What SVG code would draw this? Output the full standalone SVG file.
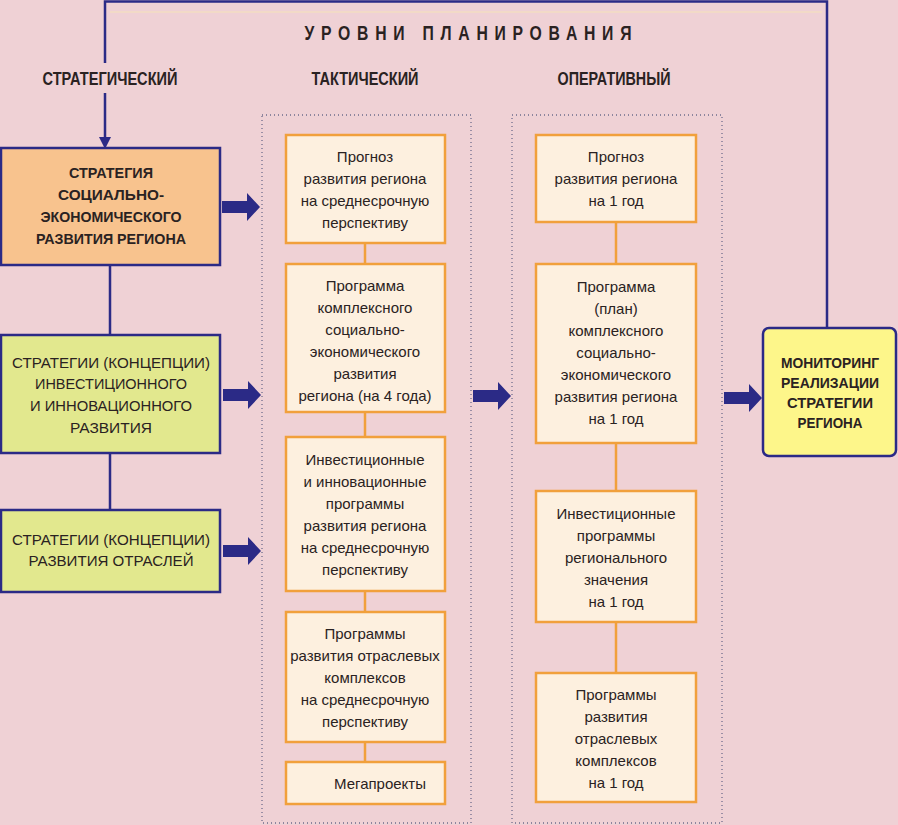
<svg xmlns="http://www.w3.org/2000/svg" width="898" height="825" viewBox="0 0 898 825">
<defs>
<style>
.t{font-family:"Liberation Sans",Arial,sans-serif;font-size:15px;fill:#2a2222;text-anchor:middle}
.b{font-weight:bold}
.h{font-family:"Liberation Sans",Arial,sans-serif;font-weight:bold;fill:#2a2222;text-anchor:middle}
.nav{fill:none;stroke:#2b2a86;stroke-width:2.5}
.org{fill:none;stroke:#f1a03c;stroke-width:2.5}
.tb{fill:#fdf0df;stroke:#f1a03c;stroke-width:2.5}
.sb{stroke:#2b2a86;stroke-width:2.5}
.dot{fill:none;stroke:#6e6c8c;stroke-width:1.3;stroke-dasharray:1 3}
</style>
<polygon id="arr" points="-38,-6 -13,-6 -13,-14 0,0 -13,14 -13,6 -38,6" fill="#2b2a86"/>
</defs>
<rect width="898" height="825" fill="#efd1d5"/>
<line x1="110" y1="12" x2="822" y2="12" stroke="#f3dcc2" stroke-width="1.5"/>

<text class="h" transform="translate(468,40) scale(0.75,1)" x="0" y="0" font-size="21" textLength="436" lengthAdjust="spacing">УРОВНИ ПЛАНИРОВАНИЯ</text>
<text class="h" x="110" y="85" font-size="18" textLength="135" lengthAdjust="spacingAndGlyphs">СТРАТЕГИЧЕСКИЙ</text>
<text class="h" x="365" y="85" font-size="18" textLength="107" lengthAdjust="spacingAndGlyphs">ТАКТИЧЕСКИЙ</text>
<text class="h" x="614" y="85" font-size="18" textLength="113" lengthAdjust="spacingAndGlyphs">ОПЕРАТИВНЫЙ</text>

<rect class="dot" x="262" y="115" width="209" height="708"/>
<rect class="dot" x="512" y="115" width="210" height="708"/>

<g id="connectors">
<path class="nav" d="M827,328 V1.5 H105 V63 M105,93 V139"/>
<polygon points="99,137 111,137 105,149" fill="#2b2a86"/>
<path class="nav" d="M110,265 V335 M110,453 V510"/>
<path class="org" d="M365,243 V264 M365,412 V437 M365,591 V612 M365,742 V762"/>
<path class="org" d="M616,222 V264 M616,443 V491 M616,622 V673"/>
<use href="#arr" x="260" y="207"/>
<use href="#arr" x="261" y="395"/>
<use href="#arr" x="261" y="551"/>
<use href="#arr" x="511" y="396"/>
<use href="#arr" x="762" y="398"/>
</g>

<g id="strategy">
<rect class="sb" x="1" y="148" width="219" height="117" fill="#f8c38e"/>
<text class="t b" x="111" y="178" textLength="84" lengthAdjust="spacingAndGlyphs">СТРАТЕГИЯ</text>
<text class="t b" x="111" y="200" textLength="106" lengthAdjust="spacingAndGlyphs">СОЦИАЛЬНО-</text>
<text class="t b" x="111" y="222" textLength="141" lengthAdjust="spacingAndGlyphs">ЭКОНОМИЧЕСКОГО</text>
<text class="t b" x="111" y="244" textLength="150" lengthAdjust="spacingAndGlyphs">РАЗВИТИЯ РЕГИОНА</text>
</g>
<g id="invest">
<rect class="sb" x="1" y="335" width="219" height="118" fill="#e2e88e"/>
<text class="t" x="111" y="368" textLength="198" lengthAdjust="spacingAndGlyphs">СТРАТЕГИИ (КОНЦЕПЦИИ)</text>
<text class="t" x="111" y="389" textLength="152" lengthAdjust="spacingAndGlyphs">ИНВЕСТИЦИОННОГО</text>
<text class="t" x="111" y="411" textLength="162" lengthAdjust="spacingAndGlyphs">И ИННОВАЦИОННОГО</text>
<text class="t" x="111" y="433" textLength="82" lengthAdjust="spacingAndGlyphs">РАЗВИТИЯ</text>
</g>
<g id="branches">
<rect class="sb" x="1" y="510" width="219" height="82" fill="#e2e88e"/>
<text class="t" x="111" y="545" textLength="198" lengthAdjust="spacingAndGlyphs">СТРАТЕГИИ (КОНЦЕПЦИИ)</text>
<text class="t" x="111" y="566" textLength="165" lengthAdjust="spacingAndGlyphs">РАЗВИТИЯ ОТРАСЛЕЙ</text>
</g>

<g id="t1">
<rect class="tb" x="286" y="135" width="159" height="108"/>
<text class="t" x="365" y="162">Прогноз</text>
<text class="t" x="365" y="184">развития региона</text>
<text class="t" x="365" y="206">на среднесрочную</text>
<text class="t" x="365" y="228">перспективу</text>
</g>
<g id="t2">
<rect class="tb" x="286" y="264" width="159" height="148"/>
<text class="t" x="365" y="291">Программа</text>
<text class="t" x="365" y="313">комплексного</text>
<text class="t" x="365" y="335">социально-</text>
<text class="t" x="365" y="357">экономического</text>
<text class="t" x="365" y="379">развития</text>
<text class="t" x="365" y="401">региона (на 4 года)</text>
</g>
<g id="t3">
<rect class="tb" x="286" y="437" width="159" height="154"/>
<text class="t" x="365" y="465">Инвестиционные</text>
<text class="t" x="365" y="487">и инновационные</text>
<text class="t" x="365" y="509">программы</text>
<text class="t" x="365" y="531">развития региона</text>
<text class="t" x="365" y="553">на среднесрочную</text>
<text class="t" x="365" y="575">перспективу</text>
</g>
<g id="t4">
<rect class="tb" x="286" y="612" width="159" height="130"/>
<text class="t" x="365" y="639">Программы</text>
<text class="t" x="365" y="661">развития отраслевых</text>
<text class="t" x="365" y="683">комплексов</text>
<text class="t" x="365" y="705">на среднесрочную</text>
<text class="t" x="365" y="727">перспективу</text>
</g>
<g id="t5">
<rect class="tb" x="286" y="762" width="159" height="42"/>
<text class="t" x="380" y="789">Мегапроекты</text>
</g>

<g id="o1">
<rect class="tb" x="536" y="135" width="160" height="87"/>
<text class="t" x="616" y="162">Прогноз</text>
<text class="t" x="616" y="184">развития региона</text>
<text class="t" x="616" y="206">на 1 год</text>
</g>
<g id="o2">
<rect class="tb" x="536" y="264" width="160" height="179"/>
<text class="t" x="616" y="292">Программа</text>
<text class="t" x="616" y="314">(план)</text>
<text class="t" x="616" y="336">комплексного</text>
<text class="t" x="616" y="358">социально-</text>
<text class="t" x="616" y="380">экономического</text>
<text class="t" x="616" y="402">развития региона</text>
<text class="t" x="616" y="424">на 1 год</text>
</g>
<g id="o3">
<rect class="tb" x="536" y="491" width="160" height="131"/>
<text class="t" x="616" y="519">Инвестиционные</text>
<text class="t" x="616" y="541">программы</text>
<text class="t" x="616" y="563">регионального</text>
<text class="t" x="616" y="585">значения</text>
<text class="t" x="616" y="607">на 1 год</text>
</g>
<g id="o4">
<rect class="tb" x="536" y="673" width="160" height="129"/>
<text class="t" x="616" y="700">Программы</text>
<text class="t" x="616" y="722">развития</text>
<text class="t" x="616" y="744">отраслевых</text>
<text class="t" x="616" y="766">комплексов</text>
<text class="t" x="616" y="788">на 1 год</text>
</g>

<g id="monitor">
<rect class="sb" x="763" y="328" width="133" height="128" rx="6" fill="#fdf68a"/>
<text class="t b" x="830" y="368" textLength="98" lengthAdjust="spacingAndGlyphs">МОНИТОРИНГ</text>
<text class="t b" x="830" y="388" textLength="98" lengthAdjust="spacingAndGlyphs">РЕАЛИЗАЦИИ</text>
<text class="t b" x="830" y="408" textLength="86" lengthAdjust="spacingAndGlyphs">СТРАТЕГИИ</text>
<text class="t b" x="830" y="428" textLength="65" lengthAdjust="spacingAndGlyphs">РЕГИОНА</text>
</g>
</svg>
